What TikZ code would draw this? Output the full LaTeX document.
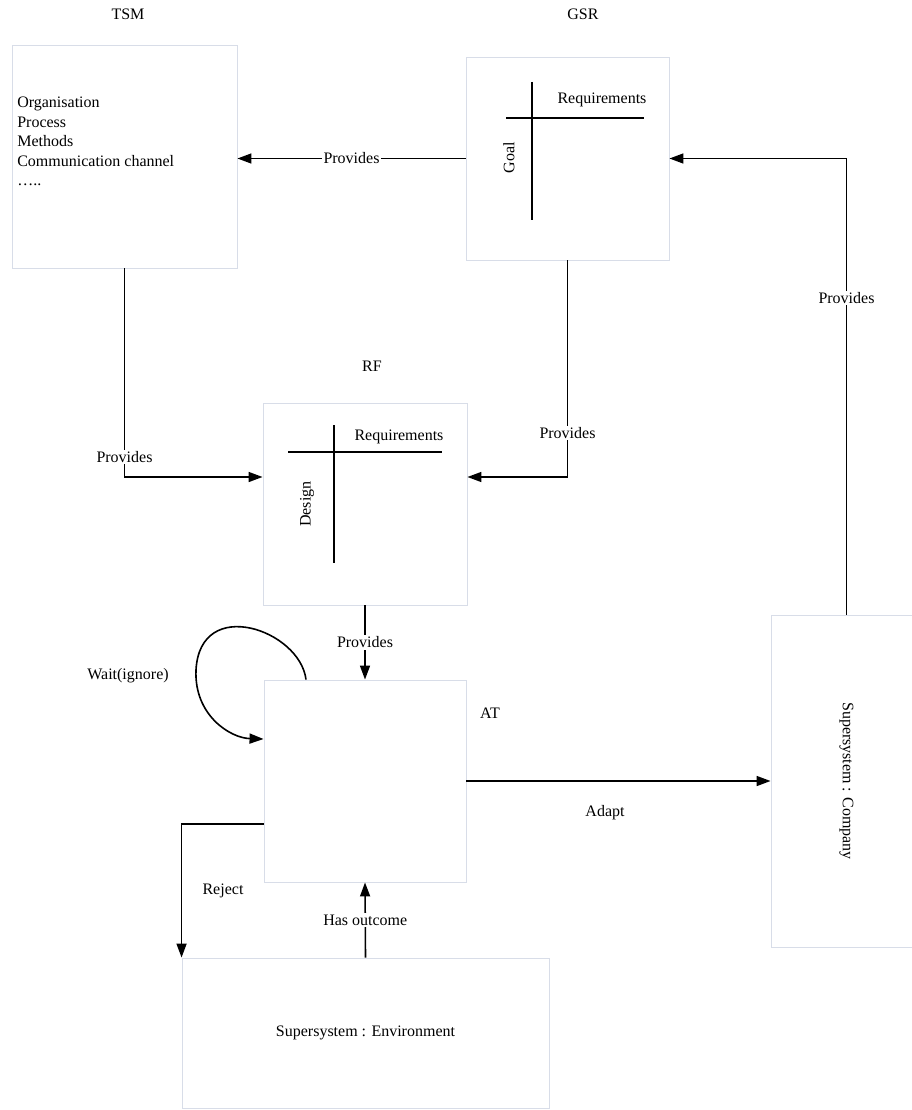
\documentclass[tikz,border=0pt]{standalone}
\usepackage{fontspec}
\setmainfont{Liberation Serif}
\usetikzlibrary{arrows.meta,positioning}
\definecolor{boxgray}{RGB}{216,221,232}

\begin{document}
\begin{tikzpicture}[x=1pt, y=-1pt, line width=1.6pt,
    box/.style={draw=boxgray, line width=0.9pt, rectangle, inner sep=0pt},
    link/.style={-{Triangle[length=14pt,width=10pt]}},
    lbl/.style={font=\fontsize{16}{19.5}\selectfont, fill=white, inner sep=1.5pt}]
    \useasboundingbox (0,0) rectangle (912,1110);
    % boxes
    \node[box, minimum width=225, minimum height=223] (tsm) at (124.5,156.5) {};
    \node[box, minimum width=203, minimum height=203] (gsr) at (567.5,158.5) {};
    \node[box, minimum width=204, minimum height=202] (rf) at (365,504) {};
    \node[box, minimum width=202, minimum height=202] (at) at (365,781) {};
    \node[box, minimum width=151, minimum height=332, font=\fontsize{16}{19.5}\selectfont] (company) at (846.5,781) {\rotatebox{-90}{Supersystem : Company}};
    \node[box, minimum width=367, minimum height=150, font=\fontsize{16}{19.5}\selectfont] (env) at (365.5,1033) {Supersystem : Environment};
    % titles
    \node[lbl] (tsmtitle) at (128,14) {TSM};
    \node[lbl] (gsrtitle) at (583,14) {GSR};
    \node[lbl] (rftitle) at (372,366) {RF};
    \node[lbl] (attitle) at (490,713) {AT};
    % TSM content
    \node[lbl, anchor=north west, align=left, fill=none] (tsmlist) at (15,95)
        {Organisation\\Process\\Methods\\Communication channel\\…..};
    % GSR cross
    \draw (532,82) -- (532,220);
    \draw (506,118) -- (644,118);
    \node[lbl, fill=none] (gsrreq) at (602,100) {Requirements};
    \node[lbl, fill=none, rotate=90] (gsrgoal) at (509,158) {Goal};
    % RF cross
    \draw (334,425) -- (334,563);
    \draw (288,452) -- (442,452);
    \node[lbl, fill=none] (rfreq) at (399,437) {Requirements};
    \node[lbl, fill=none, rotate=90] (rfdesign) at (307,504) {Design};
    % connectors
    \draw[link] (gsr.west) -- (gsr.west -| tsm.east) node[lbl, midway] {Provides};
    \draw[link] (company.north) |- (gsr.east) node[lbl, pos=0.347] {Provides};
    \draw[link] (tsm.south) |- ([yshift=27pt]rf.west) node[lbl, pos=0.452] {Provides};
    \draw[link] (gsr.south) |- ([yshift=27pt]rf.east) node[lbl, pos=0.399] {Provides};
    \draw[link] (rf.south) -- (at.north) node[lbl, midway] {Provides};
    \draw[link] ([xshift=-59pt]at.north) .. controls (300,630) and (200,595) .. (196,670)
        .. controls (194,715) and (230,738) .. ([yshift=42pt]at.west);
    \node[lbl] (waitlbl) at (128,676) {Wait(ignore)};
    \draw[link] (at.east) -- (company.west);
    \node[lbl] (adaptlbl) at (605,813) {Adapt};
    \draw[link] ([yshift=-43pt]at.west) -| (env.north west);
    \node[lbl] (rejectlbl) at (223,891) {Reject};
    \draw[link] (env.north) -- (at.south) node[lbl, midway] {Has outcome};
\end{tikzpicture}
\end{document}
